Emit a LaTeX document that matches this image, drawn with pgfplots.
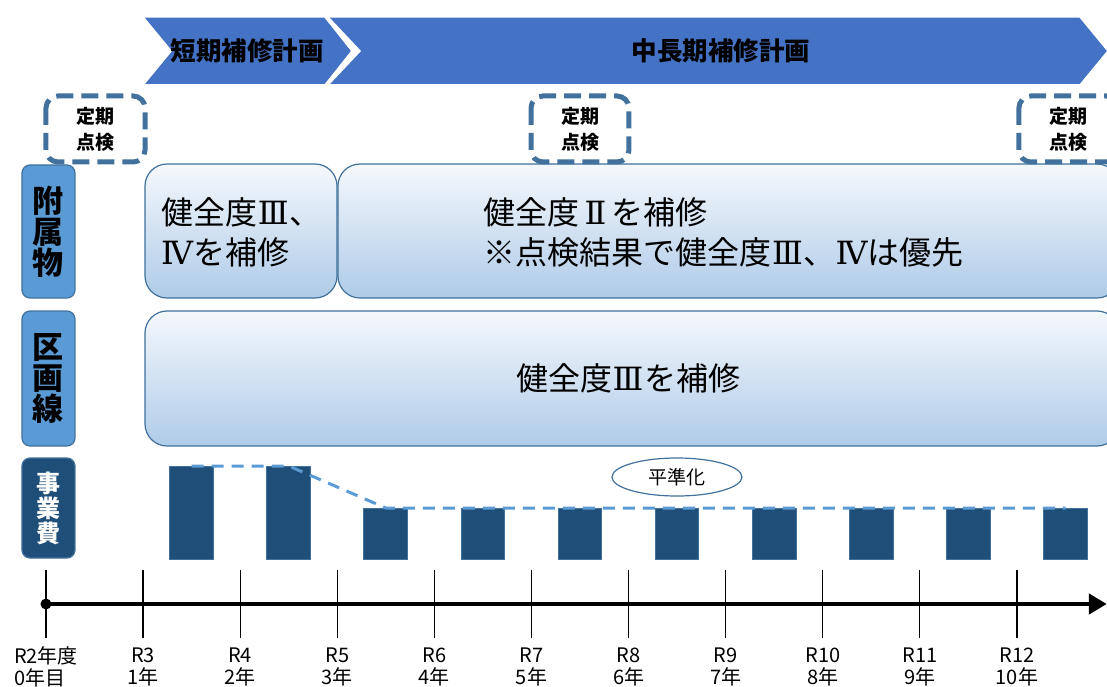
\documentclass[border=0pt]{standalone}
\usepackage{pgfplots}
\pgfplotsset{compat=1.18}
\usepackage{pgfplotstable}
\usepackage{fontspec}
\setmainfont{Noto Sans CJK JP}
\newfontfamily\rn{DejaVu Serif}
\newcommand{\RN}[1]{\makebox[1em][c]{\rn #1}}
\usetikzlibrary{arrows.meta,shapes.geometric}
\definecolor{chev}{HTML}{4472C4}
\definecolor{dbox}{HTML}{41719C}
\definecolor{lbl}{HTML}{5B9BD5}
\definecolor{navy}{HTML}{1F4E79}
\definecolor{gtop}{HTML}{F4F8FC}
\definecolor{gbot}{HTML}{AFCBE8}
\definecolor{dline}{HTML}{5B9BD5}

\pgfplotstableread{
x y
1.5 93
2.5 93
3.5 51
4.5 51
5.5 51
6.5 51
7.5 51
8.5 51
9.5 51
10.5 51
}\costdata

\begin{document}
\begin{tikzpicture}
\begin{axis}[
  scale only axis, width=1107pt, height=686pt,
  xmin=-0.4737, xmax=10.927, ymin=-127, ymax=559,
  hide axis, clip=false,
]
% chevrons
\filldraw[chev, draw=white, line width=1.5pt] (axis cs:1.0,542) -- (axis cs:2.873,542) -- (axis cs:3.151,508) -- (axis cs:2.873,474) -- (axis cs:1.0,474) -- (axis cs:1.289,508) -- cycle;
\filldraw[chev, draw=white, line width=1.5pt] (axis cs:2.904,542) -- (axis cs:10.649,542) -- (axis cs:10.937,508) -- (axis cs:10.649,474) -- (axis cs:2.904,474) -- (axis cs:3.234,508) -- cycle;
\node[font=\fontsize{25.5}{28}\selectfont\bfseries] at (axis cs:2.075,508) {短期補修計画};
\node[font=\fontsize{25.5}{28}\selectfont\bfseries] at (axis cs:6.952,508) {中長期補修計画};

% left labels
\filldraw[fill=lbl, draw=dbox, line width=1.2pt, rounded corners=8pt] (axis cs:-0.2472,394) rectangle (axis cs:0.2986,261);
\filldraw[fill=lbl, draw=dbox, line width=1.2pt, rounded corners=8pt] (axis cs:-0.2472,248) rectangle (axis cs:0.2986,113);
\filldraw[fill=navy, draw=dbox, line width=1.2pt, rounded corners=8pt] (axis cs:-0.2472,101) rectangle (axis cs:0.2986,1);
\node[align=center, font=\fontsize{31}{31}\selectfont\bfseries] at (axis cs:0.0257,327.5) {附\\属\\物};
\node[align=center, font=\fontsize{31}{31}\selectfont\bfseries] at (axis cs:0.0257,180.5) {区\\画\\線};
\node[align=center, text=white, font=\fontsize{24}{25}\selectfont\bfseries] at (axis cs:0.0257,51) {事\\業\\費};

% gradient boxes
\draw[draw=dbox, line width=1.2pt, top color=gtop, bottom color=gbot, rounded corners=22pt] (axis cs:1.0196,395) rectangle (axis cs:2.997,261);
\draw[draw=dbox, line width=1.2pt, top color=gtop, bottom color=gbot, rounded corners=22pt] (axis cs:3.007,395) rectangle (axis cs:11.05,261);
\draw[draw=dbox, line width=1.2pt, top color=gtop, bottom color=gbot, rounded corners=22pt] (axis cs:1.0196,248) rectangle (axis cs:11.05,113);
\node[anchor=west, align=left, font=\fontsize{32}{40}\selectfont] at (axis cs:1.15,327) {健全度\RN{Ⅲ}、\\\RN{Ⅳ}を補修};
\node[anchor=west, align=left, font=\fontsize{32}{40}\selectfont] at (axis cs:4.47,327) {健全度\RN{Ⅱ}を補修\\※点検結果で健全度\RN{Ⅲ}、\RN{Ⅳ}は優先};
\node[font=\fontsize{32}{40}\selectfont] at (axis cs:5.994,181) {健全度\RN{Ⅲ}を補修};

% cost bars
\addplot[ybar, bar width=0.45, fill=navy, draw=dbox, line width=1pt] table {\costdata};
\addplot[dline, line width=3pt, dash pattern=on 12pt off 8pt, no markers] coordinates {(1.5,93) (2.5,93) (3.5,51) (10.5,51)};
\node[ellipse, draw=dbox, fill=white, line width=1.2pt, minimum width=130pt, minimum height=38pt, inner sep=0pt, font=\fontsize{19}{20}\selectfont] at (axis cs:6.498,82) {平準化};

% periodic inspection boxes
\draw[dbox, line width=5pt, dash pattern=on 17pt off 8pt, rounded corners=12pt, fill=white] (axis cs:0,463) rectangle (axis cs:1.02,397);
\draw[dbox, line width=5pt, dash pattern=on 17pt off 8pt, rounded corners=12pt, fill=white] (axis cs:4.995,463) rectangle (axis cs:6.004,397);
\draw[dbox, line width=5pt, dash pattern=on 17pt off 8pt, rounded corners=12pt, fill=white] (axis cs:10.02,463) rectangle (axis cs:11.04,397);
\node[align=center, font=\fontsize{19}{26}\selectfont\bfseries] at (axis cs:0.51,430) {定期\\点検};
\node[align=center, font=\fontsize{19}{26}\selectfont\bfseries] at (axis cs:5.5,430) {定期\\点検};
\node[align=center, font=\fontsize{19}{26}\selectfont\bfseries] at (axis cs:10.53,430) {定期\\点検};

% timeline
\pgfplotsinvokeforeach{0,...,10}{\draw[line width=1.2pt] (axis cs:#1,-11) -- (axis cs:#1,-79);}
\draw[line width=4.5pt, -{Triangle[length=18pt,width=20pt]}] (axis cs:0,-45) -- (axis cs:10.925,-45);
\fill (axis cs:0,-45) circle[radius=5.5pt];
\node[align=left, font=\fontsize{20}{22}\selectfont] at (axis cs:0,-108) {R2年度\\0年目};
\node[align=center, font=\fontsize{20}{22}\selectfont] at (axis cs:1,-108) {R3\\1年};
\node[align=center, font=\fontsize{20}{22}\selectfont] at (axis cs:2,-108) {R4\\2年};
\node[align=center, font=\fontsize{20}{22}\selectfont] at (axis cs:3,-108) {R5\\3年};
\node[align=center, font=\fontsize{20}{22}\selectfont] at (axis cs:4,-108) {R6\\4年};
\node[align=center, font=\fontsize{20}{22}\selectfont] at (axis cs:5,-108) {R7\\5年};
\node[align=center, font=\fontsize{20}{22}\selectfont] at (axis cs:6,-108) {R8\\6年};
\node[align=center, font=\fontsize{20}{22}\selectfont] at (axis cs:7,-108) {R9\\7年};
\node[align=center, font=\fontsize{20}{22}\selectfont] at (axis cs:8,-108) {R10\\8年};
\node[align=center, font=\fontsize{20}{22}\selectfont] at (axis cs:9,-108) {R11\\9年};
\node[align=center, font=\fontsize{20}{22}\selectfont] at (axis cs:10,-108) {R12\\10年};
\end{axis}
\pgfresetboundingbox
\useasboundingbox (current axis.south west) rectangle (current axis.north east);
\end{tikzpicture}
\end{document}
